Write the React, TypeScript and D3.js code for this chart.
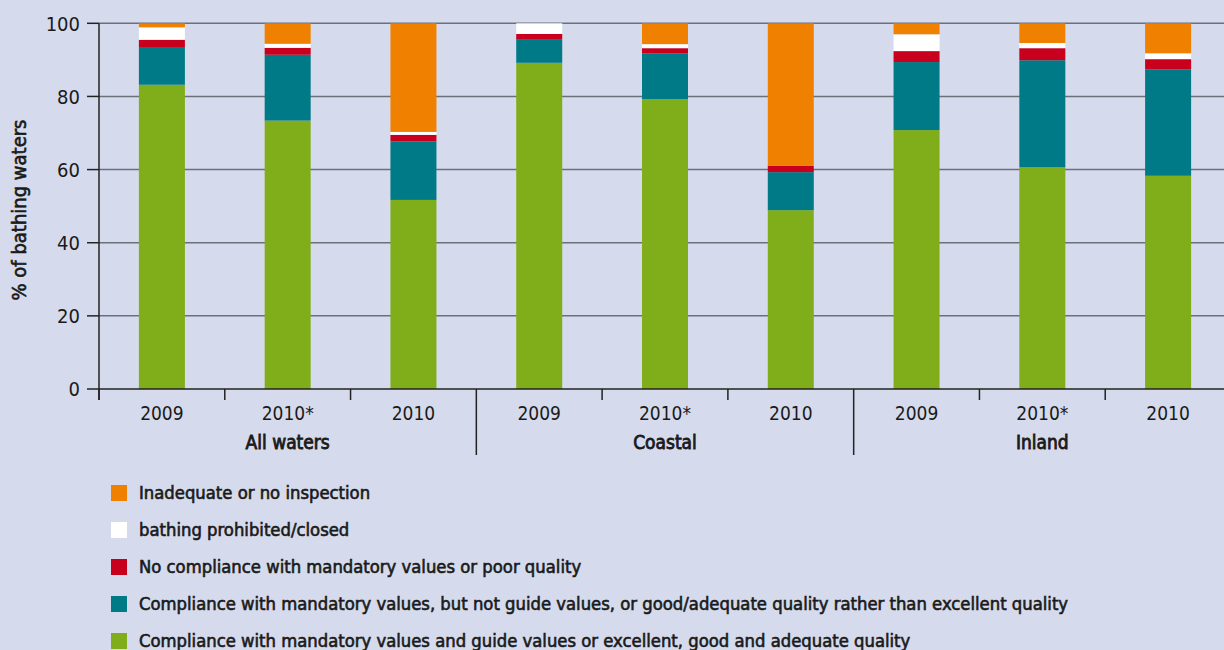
import React from "react";
import * as d3 from "d3";

const categories = ["2009", "2010*", "2010", "2009", "2010*", "2010", "2009", "2010*", "2010"];
const groups = ["All waters", "Coastal", "Inland"];
const green = [83.2, 73.4, 51.7, 89.2, 79.3, 48.9, 70.8, 60.7, 58.3];
const teal = [10.1, 18.0, 16.0, 6.3, 12.5, 10.4, 18.6, 29.2, 29.1];
const red = [2.2, 1.9, 1.8, 1.6, 1.4, 1.7, 3.0, 3.3, 2.8];
const white = [3.4, 1.1, 0.8, 2.9, 1.1, 0, 4.6, 1.4, 1.6];
const orange = [1.1, 5.6, 29.7, 0, 5.7, 39.0, 3.0, 5.4, 8.2];
const yTicks = [0, 20, 40, 60, 80, 100];

const seriesKeys = ["green", "teal", "red", "white", "orange"];
const seriesColors: Record<string, string> = {
  green: "#80ad1a",
  teal: "#007a87",
  red: "#c8001e",
  white: "#ffffff",
  orange: "#f08000",
};
const legendItems = [
  { key: "orange", label: "Inadequate or no inspection" },
  { key: "white", label: "bathing prohibited/closed" },
  { key: "red", label: "No compliance with mandatory values or poor quality" },
  { key: "teal", label: "Compliance with mandatory values, but not guide values, or good/adequate quality rather than excellent quality" },
  { key: "green", label: "Compliance with mandatory values and guide values or excellent, good and adequate quality" },
];

const W = 1224;
const H = 650;
const FONT = "'DejaVu Sans Condensed', 'DejaVu Sans', sans-serif";
const INK = "#1a1a1a";

export default function App() {
  const rows = categories.map((c, i) => ({
    idx: String(i),
    green: green[i],
    teal: teal[i],
    red: red[i],
    white: white[i],
    orange: orange[i],
  }));
  const x = d3.scaleBand<string>().domain(rows.map((r) => r.idx)).range([99, 1231]).paddingInner(0).paddingOuter(0);
  const y = d3.scaleLinear().domain([0, 100]).range([389, 23.3]);
  const stack = d3.stack<any>().keys(seriesKeys);
  const stacked = stack(rows);
  const bw = x.bandwidth();
  const barW = 46;
  const heavy = { stroke: INK, strokeWidth: 0.6 };

  return (
    <svg width={W} height={H} style={{ position: "absolute", left: 0, top: 0 }} fontFamily={FONT}>
      <rect x={0} y={0} width={W} height={H} fill="#d5dbec" />
      {yTicks.filter((t) => t > 0).map((t) => (
        <line key={t} x1={99} x2={W} y1={y(t)} y2={y(t)} stroke="#6b7079" strokeWidth={1.5} />
      ))}
      {stacked.map((s) => (
        <g key={s.key} fill={seriesColors[s.key]}>
          {s.map((d, i) => {
            const h = y(d[0]) - y(d[1]);
            if (h <= 0) return null;
            return (
              <rect key={i} x={(x(String(i)) as number) + bw / 2 - barW / 2} y={y(d[1])} width={barW} height={h} />
            );
          })}
        </g>
      ))}
      {/* y axis */}
      <line x1={99} x2={99} y1={23.3} y2={400} stroke="#222" strokeWidth={1.5} />
      <line x1={99} x2={W} y1={389} y2={389} stroke="#222" strokeWidth={1.5} />
      {yTicks.map((t) => (
        <g key={t}>
          <line x1={87} x2={99} y1={y(t)} y2={y(t)} stroke="#222" strokeWidth={1.5} />
          <text x={80} y={y(t)} dy="0.36em" textAnchor="end" fontSize={20} fill={INK}>
            {t}
          </text>
        </g>
      ))}
      <text
        transform={`translate(26,210) rotate(-90)`}
        textAnchor="middle"
        fontSize={20}
        fill={INK}
        {...heavy}
      >
        % of bathing waters
      </text>
      {/* x ticks */}
      {rows.map((r, i) => {
        const x0 = x(r.idx) as number;
        const isSep = i % 3 === 0 && i > 0;
        return (
          <g key={i}>
            <line x1={x0} x2={x0} y1={389} y2={isSep ? 455 : 400} stroke="#222" strokeWidth={1.5} />
            <text x={x0 + bw / 2} y={420} textAnchor="middle" fontSize={19} fill={INK}>
              {categories[i]}
            </text>
          </g>
        );
      })}
      {groups.map((g, gi) => {
        const cx = (x(String(gi * 3 + 1)) as number) + bw / 2;
        return (
          <text key={g} x={cx} y={449} textAnchor="middle" fontSize={19} fill={INK} stroke={INK} strokeWidth={0.8}>
            {g}
          </text>
        );
      })}
      {/* legend */}
      {legendItems.map((it, i) => {
        const cy = 493 + i * 37;
        return (
          <g key={it.key}>
            <rect x={111} y={cy - 8} width={16} height={16} fill={seriesColors[it.key]} />
            <text x={139} y={cy} dy="0.35em" fontSize={18.3} fill={INK} {...heavy}>
              {it.label}
            </text>
          </g>
        );
      })}
    </svg>
  );
}
